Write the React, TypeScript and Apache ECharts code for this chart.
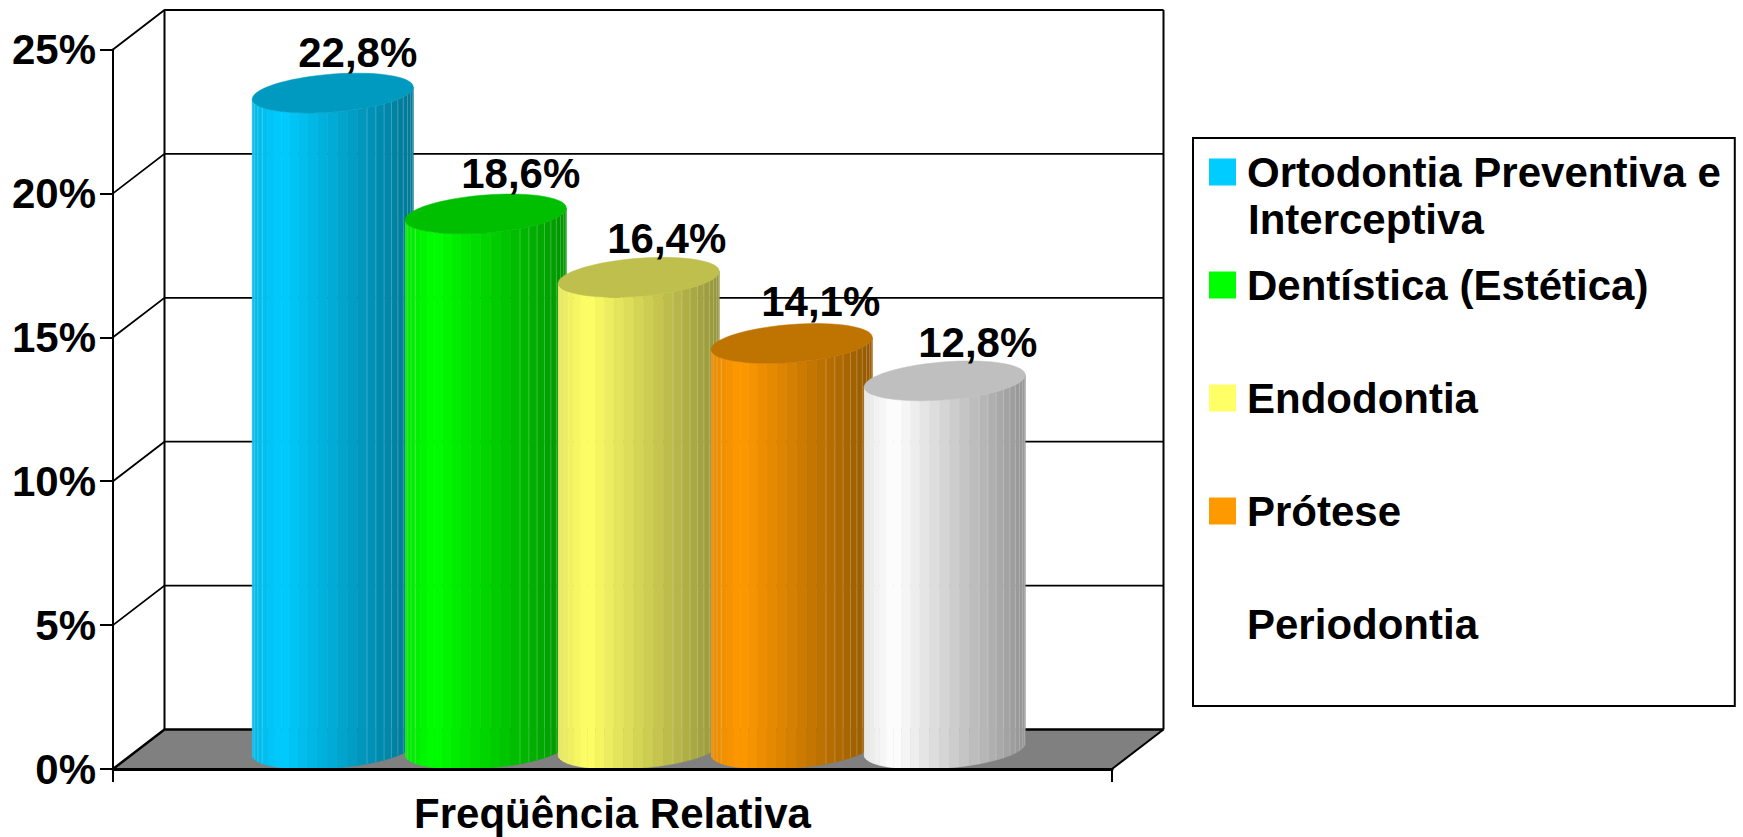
import React, { useEffect, useRef } from "react";
import * as echarts from "echarts";

const categories = ["Freqüência Relativa"];
const seriesNames = [
  "Ortodontia Preventiva e Interceptiva",
  "Dentística (Estética)",
  "Endodontia",
  "Prótese",
  "Periodontia",
];
const seriesValues = [22.8, 18.6, 16.4, 14.1, 12.8];
const seriesLabels = ["22,8%", "18,6%", "16,4%", "14,1%", "12,8%"];
const seriesColors = ["#00CCFF", "#00FF00", "#FFFF66", "#FF9900", "#FFFFFF"];
const yTicks = [0, 5, 10, 15, 20, 25];

const FONT = '"Liberation Sans", Arial, sans-serif';
const DX = 51.5;
const DY = 39.5;
const STEP = 153;
const RX = 80.5;
const RY = 19;
const TILT = 6;
const FACETS = 25;
const LABEL_NUDGE_X = [25, 35, 28, 29, 33];
const LABEL_NUDGE_Y = [-3, -2, -1, -4, 0];

function shade(hex: string, f: number) {
  const n = parseInt(hex.slice(1), 16);
  const r = Math.round(((n >> 16) & 255) * f);
  const g = Math.round(((n >> 8) & 255) * f);
  const b = Math.round((n & 255) * f);
  return `rgb(${r},${g},${b})`;
}

function facetShade(t: number) {
  return t < 0.18 ? 0.9 + (0.1 * t) / 0.18 : 1 - 0.42 * ((t - 0.18) / 0.82);
}

function cylinderItem(i: number) {
  return (params: any, api: any) => {
    const top = api.coord([0, api.value(1)]);
    const base = api.coord([0, 0]);
    const cx = top[0] + (i - 2) * STEP + DX / 2 + 0.5;
    const cyTop = top[1] - DY / 2;
    const cyBase = base[1] - DY / 2;
    const color = seriesColors[i];
    const rim = (cy: number, th: number) => [
      cx - RX * Math.cos(th),
      cy + TILT * Math.cos(th) + RY * Math.sin(th),
    ];
    const children: any[] = [];
    for (let k = 0; k < FACETS; k++) {
      const a = (Math.PI * k) / FACETS;
      const b = (Math.PI * (k + 1)) / FACETS;
      const pts: number[][] = [];
      const sub = 4;
      for (let s = 0; s <= sub; s++) pts.push(rim(cyTop, a + ((b - a) * s) / sub));
      for (let s = sub; s >= 0; s--) pts.push(rim(cyBase, a + ((b - a) * s) / sub));
      const tm = (1 - Math.cos((a + b) / 2)) / 2;
      const fill = shade(color, facetShade(tm));
      children.push({
        type: "polygon",
        shape: { points: pts },
        style: { fill, stroke: fill, lineWidth: 0.6 },
        silent: true,
      });
    }
    for (let k = 1; k < FACETS; k++) {
      if (k > 4 && k < 16) continue;
      const a = (Math.PI * k) / FACETS;
      const p = rim(cyTop, a);
      const q = rim(cyBase, a);
      children.push({
        type: "line",
        shape: { x1: p[0], y1: p[1], x2: q[0], y2: q[1] },
        style: { stroke: "rgba(255,255,255,0.22)", lineWidth: 1 },
        silent: true,
      });
    }
    const ell: number[][] = [];
    for (let s = 0; s < 72; s++) ell.push(rim(cyTop, (s * Math.PI * 2) / 72));
    children.push({
      type: "polygon",
      shape: { points: ell },
      style: { fill: shade(color, 0.75), stroke: shade(color, 0.75), lineWidth: 0.5 },
      silent: true,
    });
    children.push({
      type: "text",
      style: {
        text: seriesLabels[i],
        x: cx + LABEL_NUDGE_X[i],
        y: cyTop - 17 + LABEL_NUDGE_Y[i],
        textAlign: "center",
        textVerticalAlign: "bottom",
        font: `bold 42px ${FONT}`,
        fill: "#000",
      },
      silent: true,
    });
    return { type: "group", children };
  };
}

function frameItem(params: any, api: any) {
  const cs = params.coordSys;
  const L = cs.x;
  const R = cs.x + cs.width;
  const y0 = api.coord([0, yTicks[0]])[1];
  const y1 = api.coord([0, yTicks[yTicks.length - 1]])[1];
  const line = (x1: number, y1_: number, x2: number, y2: number, w: number) => ({
    type: "line",
    shape: { x1, y1: y1_, x2, y2 },
    style: { stroke: "#000", lineWidth: w },
    silent: true,
  });
  return {
    type: "group",
    children: [
      {
        type: "polygon",
        shape: {
          points: [
            [L, y0],
            [R, y0],
            [R + DX, y0 - DY],
            [L + DX, y0 - DY],
          ],
        },
        style: { fill: "#808080" },
        silent: true,
      },
      line(L + DX, y1 - DY, L + DX, y0 - DY, 2),
      line(R + DX, y1 - DY, R + DX, y0 - DY, 2),
      line(R, y0, R + DX, y0 - DY, 2),
    ],
  };
}

function gridLineItem(params: any, api: any) {
  const cs = params.coordSys;
  const L = cs.x;
  const R = cs.x + cs.width;
  const v = api.value(1);
  const y = api.coord([0, v])[1];
  return {
    type: "polyline",
    shape: {
      points: [
        [L, y],
        [L + DX, y - DY],
        [R + DX, y - DY],
      ],
    },
    style: { fill: "none", stroke: "#000", lineWidth: v === 0 ? 2.5 : 1.8 },
    silent: true,
  };
}

export default function App() {
  const ref = useRef<HTMLDivElement>(null);
  useEffect(() => {
    const chart = echarts.init(ref.current!, undefined, { renderer: "svg" });
    chart.setOption({
      animation: false,
      backgroundColor: "#fff",
      grid: { left: 113, right: 631, top: 49.5, bottom: 68 },
      xAxis: {
        type: "category",
        data: categories,
        axisLine: { show: true, onZero: false, lineStyle: { color: "#000", width: 3 } },
        axisTick: { show: true, length: 13, lineStyle: { color: "#000", width: 2 } },
        axisLabel: { fontFamily: FONT, fontWeight: "bold", fontSize: 42, color: "#000", margin: 23 },
        z: 10,
      },
      yAxis: {
        type: "value",
        min: 0,
        max: 25,
        interval: 5,
        splitLine: { show: false },
        axisLine: { show: true, lineStyle: { color: "#000", width: 2 } },
        axisTick: { show: true, length: 13, lineStyle: { color: "#000", width: 2 } },
        axisLabel: {
          formatter: (v: number) => `${v}%`,
          fontFamily: FONT,
          fontWeight: "bold",
          fontSize: 42,
          color: "#000",
          margin: 17,
        },
      },
      legend: {
        orient: "vertical",
        left: 1193,
        top: 138,
        data: seriesNames.map((name) => ({ name, icon: "rect" })),
        selectedMode: false,
        itemWidth: 27,
        itemHeight: 27,
        itemGap: 71,
        borderColor: "#000",
        borderWidth: 2,
        padding: [13, 14, 61, 16],
        backgroundColor: "#fff",
        formatter: (n: string) => n.replace(" Interceptiva", ""),
        textStyle: {
          fontFamily: FONT,
          fontWeight: "bold",
          fontSize: 42,
          lineHeight: 42,
          color: "#000",
          padding: [0, 0, 0, 6],
        },
      },
      graphic: [
        {
          type: "text",
          left: 1248,
          top: 198,
          z: 100,
          style: {
            text: "Interceptiva",
            font: `bold 42px ${FONT}`,
            fill: "#000",
          },
        },
      ],
      series: [
        {
          type: "custom",
          name: "frame",
          data: [[0, 0]],
          encode: { x: 0, y: 1 },
          renderItem: frameItem,
          z: 1,
          silent: true,
        },
        {
          type: "custom",
          name: "gridlines",
          data: yTicks.map((v) => [0, v]),
          encode: { x: 0, y: 1 },
          renderItem: gridLineItem,
          z: 2,
          silent: true,
        },
        ...seriesNames.map((name, i) => ({
          type: "custom",
          name,
          data: [[0, seriesValues[i]]],
          encode: { x: 0, y: 1 },
          renderItem: cylinderItem(i),
          itemStyle: { color: seriesColors[i] },
          z: 3 + i,
          silent: true,
        })),
      ],
    });
    return () => chart.dispose();
  }, []);
  return (
    <div
      ref={ref}
      style={{ position: "fixed", left: 0, top: 0, width: 1743, height: 837 }}
    />
  );
}
